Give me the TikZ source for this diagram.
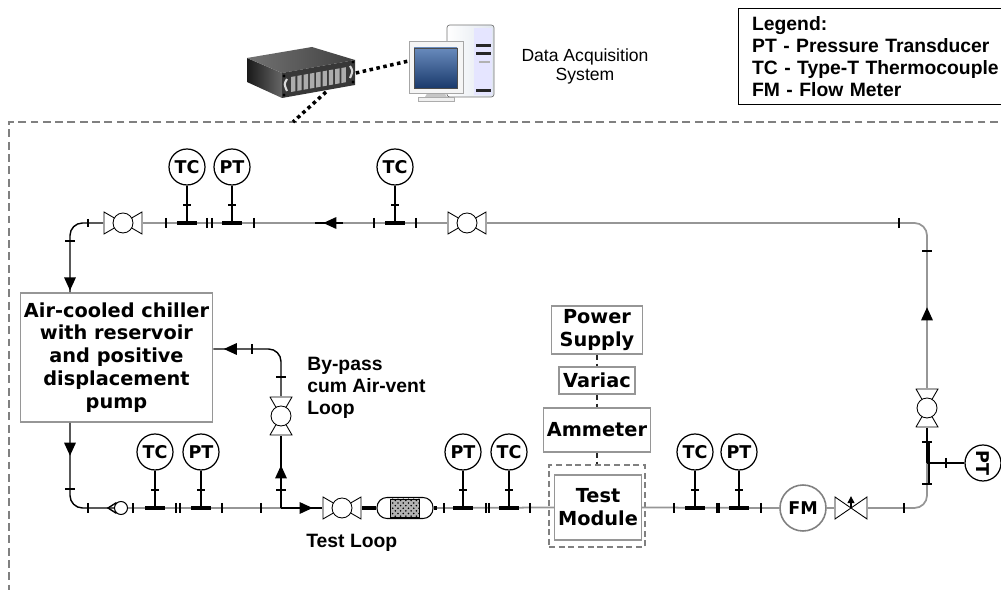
\documentclass[tikz,border=0pt]{standalone}
\usepackage{fontspec}
\setmainfont{Liberation Sans}
\newfontfamily\boxfont{DejaVu Sans}
\usetikzlibrary{shapes.geometric, arrows.meta, decorations.markings, patterns}
\definecolor{pipecolour}{RGB}{150,150,150}
\definecolor{boxcolour}{RGB}{150,150,150}
\definecolor{framecolour}{RGB}{128,128,128}
\definecolor{screentop}{RGB}{104,138,188}
\definecolor{screenbottom}{RGB}{26,58,108}
\definecolor{casecolour}{RGB}{224,230,238}
\tikzstyle{unitbox} = [rectangle, draw=boxcolour, line width=0.9pt, fill=white, align=center, inner sep=2pt, font=\boxfont\bfseries\fontsize{11}{13}\selectfont]
\tikzstyle{instr} = [circle, draw=black, line width=0.7pt, fill=white, minimum size=0.72cm, inner sep=0pt, font=\boxfont\bfseries\fontsize{10}{11}\selectfont]
\tikzstyle{flowmeter} = [circle, draw=gray, line width=0.9pt, fill=white, minimum size=0.92cm, inner sep=0pt, font=\boxfont\bfseries\fontsize{10}{11}\selectfont]
\tikzstyle{valve} = [rectangle, inner sep=0pt, minimum width=0.78cm, minimum height=0.46cm, fill=white, path picture={
  \draw[line width=0.5pt] ([shift={(0.3pt,-0.3pt)}]path picture bounding box.north west) -- ([shift={(-0.3pt,0.3pt)}]path picture bounding box.south east) -- ([shift={(-0.3pt,-0.3pt)}]path picture bounding box.north east) -- ([shift={(0.3pt,0.3pt)}]path picture bounding box.south west) -- cycle;
  \draw[line width=0.5pt, fill=white] (path picture bounding box.center) circle (0.2cm);}]
\tikzstyle{vvalve} = [rectangle, inner sep=0pt, minimum width=0.46cm, minimum height=0.78cm, fill=white, path picture={
  \draw[line width=0.5pt] ([shift={(0.3pt,-0.3pt)}]path picture bounding box.north west) -- ([shift={(-0.3pt,-0.3pt)}]path picture bounding box.north east) -- ([shift={(0.3pt,0.3pt)}]path picture bounding box.south west) -- ([shift={(-0.3pt,0.3pt)}]path picture bounding box.south east) -- cycle;
  \draw[line width=0.5pt, fill=white] (path picture bounding box.center) circle (0.2cm);}]
\tikzstyle{needlevalve} = [rectangle, inner sep=0pt, minimum width=0.66cm, minimum height=0.46cm, fill=white, path picture={
  \draw[line width=0.5pt] ([shift={(0.3pt,-0.3pt)}]path picture bounding box.north west) -- ([shift={(-0.3pt,0.3pt)}]path picture bounding box.south east) -- ([shift={(-0.3pt,-0.3pt)}]path picture bounding box.north east) -- ([shift={(0.3pt,0.3pt)}]path picture bounding box.south west) -- cycle;}]
\tikzstyle{pipe} = [draw=pipecolour, line width=1pt]
\tikzstyle{blackpipe} = [draw=black, line width=0.8pt]
\tikzstyle{stem} = [draw=black, line width=1.3pt]
\tikzstyle{teebar} = [draw=black, line width=1.8pt]
\tikzstyle{flange} = [draw=black, line width=0.6pt]
\tikzstyle{elec} = [draw=black!85, line width=1.2pt, dash pattern=on 3pt off 2pt]
\tikzstyle{wire} = [draw=black, line width=2pt, dash pattern=on 2pt off 2pt]
\tikzstyle{daqframe} = [draw=framecolour, line width=1.3pt, dash pattern=on 4.5pt off 2.5pt]
\tikzstyle{looptext} = [inner sep=0pt, anchor=west, align=left, font=\bfseries\fontsize{11}{12.7}\selectfont]
\tikzset{flowat/.style={postaction={decorate}, decoration={markings, mark=at position #1 with {\fill[black] (3.7pt,0pt) -- (-3.7pt,3.4pt) -- (-3.7pt,-3.4pt) -- cycle;}}}}

\begin{document}
\begin{tikzpicture}[x=0.02cm, y=-0.02cm]
	\useasboundingbox (0,0) rectangle (1001,590);
	% instrumented area
	\draw[daqframe] (1010,122) -- (9,122) -- (9,600);
	\coordinate (framehit) at (293,122);
	\coordinate (daqport) at (326,92);

	% logger and computer
	\node (daq) [minimum width=2.18cm, minimum height=1.04cm, inner sep=0pt] at (301,73) {};
	\node (pc) [minimum width=1.7cm, minimum height=1.56cm, inner sep=0pt] at (451.5,61) {};
	\shade[left color=black!90, right color=black!60] (247,58) -- (282,73) -- (282,98) -- (247,82) -- cycle;
	\shade[left color=black!55, right color=black!75] (247,58) -- (312,47) -- (355,60) -- (282,73) -- cycle;
	\fill[black!78] (282,73) -- (355,60) -- (355,85) -- (282,98) -- cycle;
	\foreach \i in {0,...,8}
		\fill[gray!65] (291+6.3*\i,77-1.12*\i) -- ++(4.4,-0.8) -- ++(0,15) -- ++(-4.4,0.8) -- cycle;
	\draw[gray!30, line width=1.2pt] (287,79) .. controls (284,84) .. (287,91);
	\draw[gray!30, line width=1.2pt] (350,66) .. controls (353,71) .. (350,78);
	\foreach \p in {(284,76),(284,95),(353,62),(353,82)}
		\fill[black] \p circle (1.6);
	\draw[black!55, left color=white, right color=casecolour, rounded corners=1.5pt] (447,25) rectangle (494,97);
	\fill[white!90!blue] (474,28) rectangle (492,95);
	\fill[black!85] (476,44) rectangle (491,47);
	\fill[black!85] (476,52) rectangle (491,55);
	\fill[gray!60] (479,61) rectangle (490,63);
	\fill[black!85] (476,89) rectangle (491,92);
	\fill[gray!45] (428,92) -- (444,92) -- (447,97) -- (425,97) -- cycle;
	\draw[gray!65, fill=gray!12] (418,97) rectangle (454,101);
	\draw[gray!70, fill=gray!8] (409,41) rectangle (463,93);
	\shade[top color=screentop, bottom color=screenbottom, draw=black!70] (414,48) rectangle (457,88);
	\draw[wire] (daq.east) -- (pc.west);
	\draw[wire] (daqport) -- (framehit);
	\node (daqtext) [align=center, font=\fontsize{10}{10.8}\selectfont] at (585,66) {Data Acquisition\\System};

	\node (legend) [draw=black, line width=0.7pt, anchor=north west, text width=5.3cm, minimum height=1.92cm, inner xsep=0.27cm, align=left, font=\bfseries\fontsize{11}{12.7}\selectfont] at (738,8) {Legend:\\PT - Pressure Transducer\\TC - Type-T Thermocouple\\FM - Flow Meter};

	% units
	\node (chiller) [unitbox, minimum width=3.78cm, minimum height=2.58cm] at (116.5,357.5) {Air-cooled chiller\\with reservoir\\and positive\\displacement\\pump};
	\node (power) [unitbox, minimum width=1.82cm, minimum height=0.92cm] at (597,330) {Power\\Supply};
	\node (variac) [unitbox, minimum width=1.52cm, minimum height=0.54cm] at (597,380.5) {Variac};
	\node (ammeter) [unitbox, minimum width=2.04cm, minimum height=0.88cm] at (597,430) {Ammeter};
	\node (tmframe) [rectangle, draw=framecolour, line width=1.2pt, dash pattern=on 3.5pt off 2pt, minimum width=1.92cm, minimum height=1.64cm] at (597,506) {};
	\node (tm) [unitbox, minimum width=1.6cm, minimum height=1.3cm] at (598,507.5) {Test\\Module};

	% valves and fittings
	\node (v1) [valve] at (123,223) {};
	\node (v2) [valve] at (467,223) {};
	\node (v3) [vvalve] at (927,408) {};
	\node (v4) [valve] at (342,508) {};
	\node (v5) [vvalve] at (281,416) {};
	\node (nv) [needlevalve] at (851,508) {};
	\draw[line width=0.6pt, -{Triangle[length=4pt,width=4pt]}] (nv.center) -- (nv.north);
	\node (chk) [circle, draw=black, line width=0.6pt, fill=white, minimum size=0.26cm, inner sep=0pt] at (121,508) {};
	\node (filt) [rectangle, rounded corners=0.2cm, draw=black, line width=0.6pt, fill=white, minimum width=1.12cm, minimum height=0.42cm] at (405,508) {};
	\node (filtcore) [rectangle, draw=black, line width=0.5pt, fill=gray!60, postaction={pattern=crosshatch dots}, minimum width=0.58cm, minimum height=0.36cm] at (filt) {};

	% sensors
	\node (tc1) [instr] at (187,167) {TC};
	\node (pt1) [instr] at (232,167) {PT};
	\node (tc2) [instr] at (395,167) {TC};
	\node (tc3) [instr] at (155,452) {TC};
	\node (pt2) [instr] at (201,452) {PT};
	\node (pt3) [instr] at (463,452) {PT};
	\node (tc4) [instr] at (509,452) {TC};
	\node (tc5) [instr] at (695,452) {TC};
	\node (pt4) [instr] at (739,452) {PT};
	\node (pt5) [instr, rotate=-90] at (983,463) {PT};
	\node (fm) [flowmeter] at (803,508) {FM};

	\node (bylabel) [looptext] at (307,388) {By-pass\\cum Air-vent\\Loop};
	\node (testlabel) [looptext] at (306,543) {Test Loop};

	% piping
	\coordinate (tlc) at (70,223);
	\coordinate (trc) at (927,223);
	\coordinate (brc) at (927,508);
	\coordinate (blc) at (70,508);
	\coordinate (byj) at (281,508);
	\coordinate (byc) at (281,349);
	\coordinate (cin) at (tlc |- chiller.north);
	\coordinate (cout) at (blc |- chiller.south);
	\draw[blackpipe, rounded corners=0.25cm] (cin) -- (tlc) -- (v1.west);
	\draw[pipe] (v1.east) -- (v2.west);
	\draw[pipe, rounded corners=0.25cm] (v2.east) -- (trc) -- (v3.north);
	\draw[blackpipe] (v3.south) -- (v3 |- pt5);
	\draw[pipe, rounded corners=0.25cm] (v3 |- pt5) -- (brc) -- (nv.east);
	\draw[pipe] (nv.west) -- (fm.east);
	\draw[pipe] (fm.west) -- (tm.east);
	\draw[pipe] (tm.west) -- (filt.east);
	\draw[teebar] (filt.east) -- (437,508);
	\draw[teebar] (filt.west) -- (v4.east);
	\draw[blackpipe] (byj) -- (v4.west);
	\draw[pipe] (chk.east) -- (byj);
	\draw[blackpipe, rounded corners=0.25cm] (cout) -- (blc) -- (chk.west);
	\draw[blackpipe] (chk.130) -- (108,508) -- (chk.230);
	\draw[blackpipe] (byj) -- (v5.south);
	\draw[blackpipe, rounded corners=0.25cm] (v5.north) -- (byc) -- (chiller.east |- byc);
	\draw[elec] (power) -- (variac);
	\draw[elec] (variac) -- (ammeter);
	\draw[elec] (ammeter) -- (tmframe);

	% flow direction
	\path[flowat=0.88] (tlc) -- (cin);
	\path[flowat=0.31] (cout) -- (blc);
	\path[flowat=0.40] (tc2 |- tlc) -- (pt1 |- tlc);
	\draw[blackpipe] (343,223) -- (315,223);
	\path[flowat=0.45] (v3.north) -- (trc);
	\path[flowat=0.50] (byj) -- (v5.south);
	\path[flowat=0.75] (byc) -- (chiller.east |- byc);
	\path[flowat=0.61] (byj) -- (v4.west);

	% sensor stems and tees
	\foreach \n/\x in {tc1/187, pt1/232, tc2/395} {
		\draw[stem] (\n) -- (\x,223);
		\draw[teebar] (\x-10,223) -- (\x+10,223);
		\draw[flange] (\x-4,205) -- (\x+4,205);
	}
	\foreach \n/\x in {tc3/155, pt2/201, pt3/463, tc4/509, tc5/695, pt4/739} {
		\draw[stem] (\n) -- (\x,508);
		\draw[teebar] (\x-10,508) -- (\x+10,508);
		\draw[flange] (\x-4,490) -- (\x+4,490);
	}
	\draw[blackpipe] (pt5) -- (v3 |- pt5);
	\draw[stem] (929,441) -- (929,485);
	\draw[flange] (946,458) -- (946,468);

	% flanges
	\foreach \x in {166,207,212,254,374,416,899}
		\draw[flange] (\x,218) -- (\x,228);
	\draw[line width=1.3pt] (88,219) -- (88,227);
	\foreach \x in {88,133,176,180,222,261,444,486,489,530,674,717,719,761,904}
		\draw[flange] (\x,503) -- (\x,513);
	\foreach \y in {241,489}
		\draw[flange] (65,\y) -- (75,\y);
	\foreach \y in {377,490}
		\draw[flange] (276,\y) -- (286,\y);
	\draw[flange] (252,344) -- (252,354);
	\foreach \y in {251,442,484}
		\draw[flange] (922,\y) -- (932,\y);
\end{tikzpicture}
\end{document}
